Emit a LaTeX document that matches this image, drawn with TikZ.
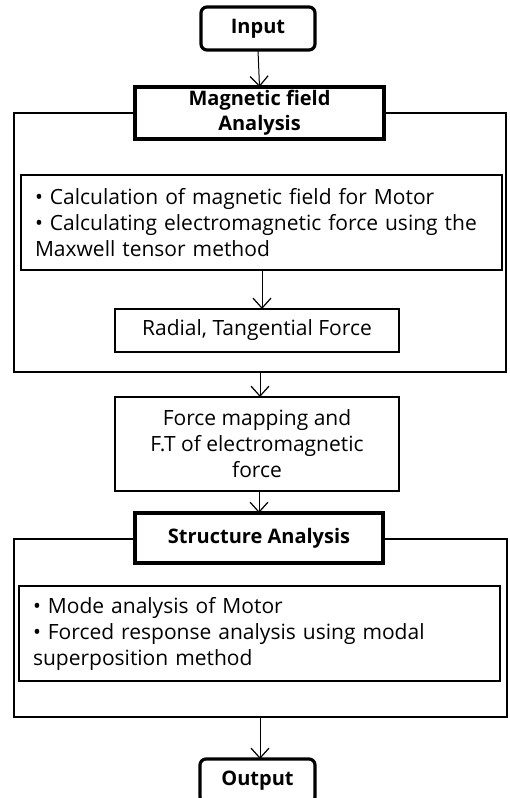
\documentclass[tikz,border=0pt]{standalone}
\usepackage{fontspec}
\setmainfont{Open Sans}
\usetikzlibrary{arrows.meta}
\begin{document}
\begin{tikzpicture}[x=1pt,y=-1pt,
  every node/.style={font=\fontsize{21}{26}\selectfont, inner sep=0pt, outer sep=0pt},
  thinbox/.style={draw, line width=1.2pt, rectangle},
  outerbox/.style={draw, line width=1.5pt},
  titlebox/.style={draw, line width=3.2pt, fill=white, rectangle, font=\fontsize{20}{26}\selectfont\bfseries, align=center},
  termbox/.style={draw, line width=3.2pt, fill=white, rectangle, rounded corners=6pt, font=\fontsize{20}{26}\selectfont\bfseries},
  flow/.style={draw, line width=1pt, -{Straight Barb[length=10pt,width=18pt,line width=1.2pt]}}
]
\useasboundingbox (0,0) rectangle (510,798);
% outer frames
\draw[outerbox] (14,113) rectangle (506,372);
\draw[outerbox] (14,539) rectangle (507,717);
\coordinate (o1s) at (260,372);
\coordinate (o2s) at (260,717);
% terminals
\node[termbox, minimum width=114pt, minimum height=43pt] (input) at (258,28.5) {Input};
\node[titlebox, minimum width=249pt, minimum height=52pt] (mag) at (259.5,113) {\raisebox{-2pt}{Magnetic field}\\\raisebox{-1pt}{Analysis}};
\node[thinbox, minimum width=481pt, minimum height=95pt, text width=453pt, align=left] (calc) at (261.5,222.5)
  {• Calculation of magnetic field for Motor\\• Calculating electromagnetic force using the\\Maxwell tensor method};
\node[thinbox, minimum width=284pt, minimum height=43pt] (radial) at (257,330.5) {Radial, Tangential Force};
\node[thinbox, minimum width=284pt, minimum height=94pt, align=center] (force) at (257,444)
  {Force mapping and\\F.T of electromagnetic\\force};
\node[titlebox, minimum width=248pt, minimum height=50pt] (struct) at (259,538) {Structure Analysis};
\node[thinbox, minimum width=481pt, minimum height=95pt, text width=453pt, align=left] (mode) at (259.5,633.5)
  {• Mode analysis of Motor\\• Forced response analysis using modal\\superposition method};
\node[termbox, minimum width=115pt, minimum height=44pt] (output) at (257.5,781) {Output};
% connectors
\draw[flow] (input.south) -- (mag.north);
\draw[flow] (calc.south -| 262,0) -- (radial.north -| 262,0);
\draw[flow] (o1s) -- (force.north -| o1s);
\draw[flow] (force.south -| 259,0) -- (struct.north -| 259,0);
\draw[flow] (o2s) -- (output.north -| o2s);
\end{tikzpicture}
\end{document}
